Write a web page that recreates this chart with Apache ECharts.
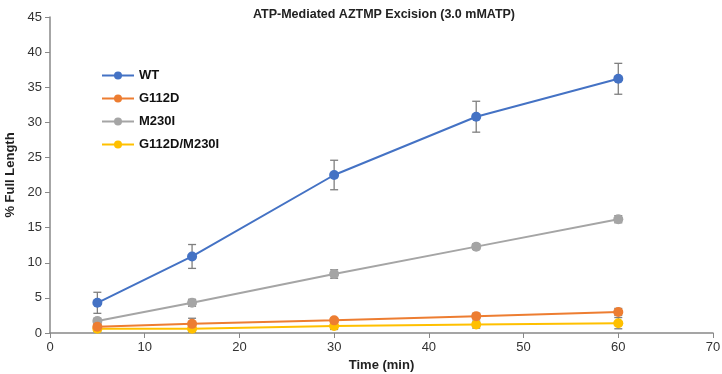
<!DOCTYPE html>
<html style="height: 100%">
<head>
    <meta charset="utf-8">
</head>
<body style="height: 100%; margin: 0">
    <div id="container" style="width: 722px; height: 374px"></div>
    <script type="text/javascript" src="https://cdn.jsdelivr.net/npm/echarts@6/dist/echarts.min.js"></script>
    <script type="text/javascript">
var times = [5, 15, 30, 45, 60];
var seriesNames = ['WT', 'G112D', 'M230I', 'G112D/M230I'];
var colors = ['#4472C4', '#ED7D31', '#A5A5A5', '#FFC000'];
var wt = [4.3, 10.9, 22.5, 30.8, 36.2];
var wtErr = [1.5, 1.7, 2.1, 2.2, 2.2];
var g112d = [0.9, 1.3, 1.8, 2.4, 3.0];
var g112dErr = [0.3, 0.8, 0.3, 0.4, 0.5];
var m230i = [1.7, 4.3, 8.4, 12.3, 16.2];
var m230iErr = [0.4, 0.5, 0.6, 0.4, 0.5];
var dbl = [0.6, 0.6, 1.0, 1.2, 1.4];
var dblErr = [0.4, 0.5, 0.5, 0.5, 0.8];

var values = [wt, g112d, m230i, dbl];
var errors = [wtErr, g112dErr, m230iErr, dblErr];

var dom = document.getElementById("container");
var myChart = echarts.init(dom);

function errorData(vals, errs) {
    var res = [];
    for (var i = 0; i < times.length; i++) {
        res.push([times[i], vals[i] - errs[i], vals[i] + errs[i]]);
    }
    return res;
}

function renderError(params, api) {
    var lo = api.coord([api.value(0), api.value(1)]);
    var hi = api.coord([api.value(0), api.value(2)]);
    var w = 4;
    var style = { stroke: '#7f7f7f', lineWidth: 1.3 };
    return {
        type: 'group',
        children: [
            { type: 'line', shape: { x1: lo[0], y1: lo[1], x2: hi[0], y2: hi[1] }, style: style },
            { type: 'line', shape: { x1: lo[0] - w, y1: lo[1], x2: lo[0] + w, y2: lo[1] }, style: style },
            { type: 'line', shape: { x1: hi[0] - w, y1: hi[1], x2: hi[0] + w, y2: hi[1] }, style: style }
        ]
    };
}

var series = [];
// error bars first so the markers sit on top
for (var i = values.length - 1; i >= 0; i--) {
    series.push({
        type: 'custom',
        renderItem: renderError,
        data: errorData(values[i], errors[i]),
        z: 1,
        silent: true
    });
}
for (var i = values.length - 1; i >= 0; i--) {
    var pts = [];
    for (var j = 0; j < times.length; j++) pts.push([times[j], values[i][j]]);
    series.push({
        name: seriesNames[i],
        type: 'line',
        data: pts,
        symbol: 'circle',
        symbolSize: 10,
        z: 3,
        lineStyle: { color: colors[i], width: 2 },
        itemStyle: { color: colors[i] }
    });
}

var option = {
    animation: false,
    textStyle: { fontFamily: 'Liberation Sans, Arial, sans-serif' },
    title: {
        text: 'ATP-Mediated AZTMP Excision (3.0 mMATP)',
        left: 379,
        textAlign: 'center',
        top: 3,
        textStyle: { fontSize: 12.5, fontWeight: 'bold', color: '#222' }
    },
    legend: {
        orient: 'vertical',
        left: 96,
        top: 64,
        itemWidth: 32,
        itemHeight: 10,
        itemGap: 10,
        data: seriesNames,
        textStyle: { fontSize: 13, fontWeight: 'bold', color: '#111' }
    },
    grid: { left: 50, right: 9, top: 17, bottom: 41, outerBoundsMode: 'none' },
    xAxis: {
        type: 'value',
        min: 0,
        max: 70,
        interval: 10,
        name: 'Time (min)',
        nameLocation: 'middle',
        nameGap: 25,
        nameTextStyle: { fontSize: 13, fontWeight: 'bold', color: '#222' },
        axisLine: { lineStyle: { color: '#888', width: 1.5 } },
        axisTick: { show: true, length: 5, lineStyle: { color: '#888' } },
        axisLabel: { fontSize: 13, color: '#333', margin: 8 },
        splitLine: { show: false }
    },
    yAxis: {
        type: 'value',
        min: 0,
        max: 45,
        interval: 5,
        name: '% Full Length',
        nameLocation: 'middle',
        nameGap: 33,
        nameTextStyle: { fontSize: 13, fontWeight: 'bold', color: '#222' },
        axisLine: { show: true, lineStyle: { color: '#888', width: 1.5 } },
        axisTick: { show: true, length: 5, lineStyle: { color: '#888' } },
        axisLabel: { fontSize: 13, color: '#333', margin: 8 },
        splitLine: { show: false }
    },
    series: series
};
myChart.setOption(option, true);
</script>
</body>
</html>
